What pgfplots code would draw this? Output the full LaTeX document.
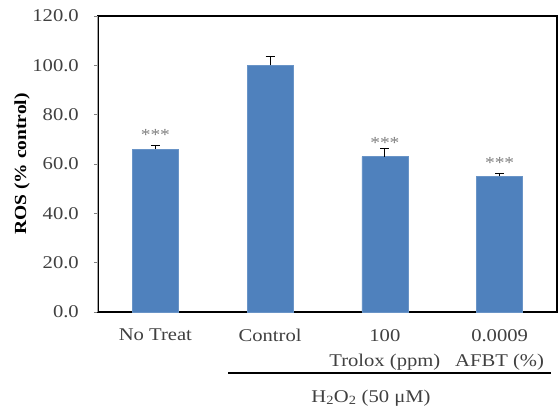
\documentclass[border=0pt]{standalone}
\usepackage{fontspec}
\setmainfont{Liberation Serif}[FakeStretch=1.15]
\usepackage{pgfplots}
\pgfplotsset{compat=1.18}
\definecolor{barblue}{HTML}{4F81BD}
\definecolor{lbl}{HTML}{404040}
\newcommand{\lfont}{\fontsize{17}{25}\selectfont}
\newcommand{\tfont}{\fontsize{18}{25}\selectfont}
\begin{document}
\begin{tikzpicture}
\begin{axis}[
  at={(0,0)}, anchor=south west,
  scale only axis, width=459bp, height=296bp,
  xmin=-0.5, xmax=3.5, ymin=0, ymax=120,
  ytick={0,20,...,120},
  xtick={0,1,2,3},
  xticklabels={No Treat, Control, {100\\Trolox (ppm)}, {0.0009\\AFBT (\%)}},
  xtick style={draw=none},
  ytick style={draw=gray, line width=0.8bp},
  tick align=outside, major tick length=4bp,
  y tick label style={/pgf/number format/.cd, fixed, fixed zerofill, precision=1, assume math mode=true, /tikz/.cd, font=\tfont, text=lbl, anchor=east, inner sep=0pt, xshift=-15bp},
  x tick label style={font=\tfont, text=lbl, align=center, anchor=north, inner sep=0pt, yshift=-13bp},
  axis line style={black, line width=1.2bp},
  every axis y label/.style={at={(rel axis cs:0,0.5)}, xshift=-76bp, rotate=90, anchor=center},
  ylabel={\lfont\bfseries ROS (\% control)},
  clip=false,
  ybar, bar width=0.4,
]
\addplot[ybar, bar shift=0pt, fill=barblue, draw=barblue!85!white, line width=0.6bp,
  error bars/.cd, y dir=plus, y explicit,
  error bar style={black, line width=1bp},
  error mark options={rotate=90, black, mark size=4.5bp, line width=1bp}]
  coordinates {(0,66) +- (0,1.6) (1,100) +- (0,3.6) (2,63) +- (0,3.1) (3,55) +- (0,1.0)};
\draw[gray!70, line width=1bp] (rel axis cs:0,0) -- (rel axis cs:0,1);
\node[text=gray, font=\lfont, yshift=-3bp] at (axis cs:0,72.9) {***};
\node[text=gray, font=\lfont, yshift=-3bp] at (axis cs:2,69.9) {***};
\node[text=gray, font=\lfont, yshift=-3bp] at (axis cs:3,61.8) {***};
\draw[black, line width=1.5bp] ([xshift=130bp, yshift=-61bp]rel axis cs:0,0) -- ([xshift=453bp, yshift=-61bp]rel axis cs:0,0);
\node[font=\tfont, text=lbl, anchor=base] at ([xshift=273bp, yshift=-90bp]rel axis cs:0,0) {H\textsubscript{2}O\textsubscript{2} (50 μM)};
\end{axis}
\pgfresetboundingbox
\path[use as bounding box] (-98bp,-98bp) rectangle (460bp,312bp);
\end{tikzpicture}
\end{document}
